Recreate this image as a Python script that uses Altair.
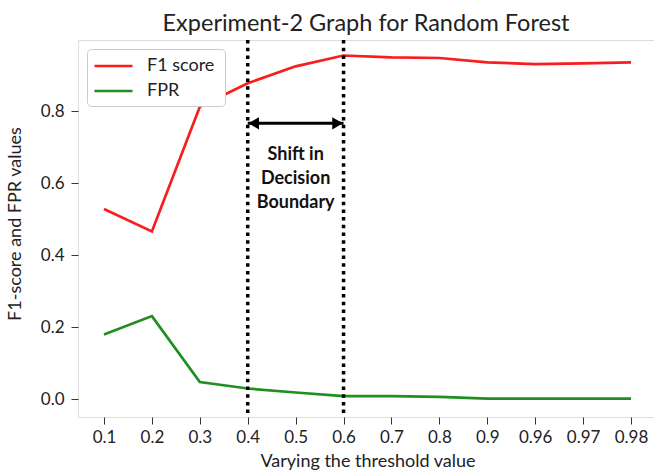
import altair as alt
import pandas as pd

thresholds = ["0.1", "0.2", "0.3", "0.4", "0.5", "0.6", "0.7", "0.8", "0.9", "0.96", "0.97", "0.98"]
f1_score = [0.528, 0.466, 0.812, 0.877, 0.924, 0.954, 0.949, 0.947, 0.935, 0.930, 0.932, 0.935]
fpr = [0.180, 0.231, 0.048, 0.030, 0.019, 0.009, 0.009, 0.007, 0.002, 0.002, 0.002, 0.002]
series_names = ["F1 score", "FPR"]
series_colors = ["#f81e1e", "#1f8f1f"]
boundary_thresholds = ["0.4", "0.6"]
arrow_level = 0.766
annotation_text = "Shift in\nDecision\nBoundary"
annotation_threshold = "0.5"
annotation_level = 0.678

FONT = "Lato"
TXT = "#222222"

rows = []
for t, a, b in zip(thresholds, f1_score, fpr):
    rows.append({"threshold": t, "value": a, "series": series_names[0]})
    rows.append({"threshold": t, "value": b, "series": series_names[1]})
df = pd.DataFrame(rows)

xscale = alt.Scale(type="point", domain=thresholds, padding=0, range=[26, 553])
yscale = alt.Scale(domain=[-0.049, 0.997], nice=False, zero=False)

x_axis = alt.Axis(title="Varying the threshold value", labelAngle=0, labelFontSize=17,
                  titleFontSize=18, labelColor=TXT, titleColor=TXT,
                  tickSize=7, tickColor="#333", domain=False, grid=False,
                  labelPadding=5, labelFont=FONT, titleFont=FONT,
                  titleFontWeight="normal", titleY=49, titleBaseline="alphabetic")
y_axis = alt.Axis(title="F1-score and FPR values", values=[0, 0.2, 0.4, 0.6, 0.8], format=".1f",
                  labelFontSize=17, titleFontSize=18, labelColor=TXT, titleColor=TXT,
                  tickSize=7, tickColor="#333", domain=False, grid=False,
                  labelPadding=7, labelFont=FONT, titleFont=FONT,
                  titleFontWeight="normal", titleX=-63, titleY=183.5,
                  titleBaseline="middle", titleAlign="center", titleAngle=270)

lines = alt.Chart(df).mark_line(strokeWidth=2.7).encode(
    x=alt.X("threshold:O", scale=xscale, axis=x_axis, sort=thresholds),
    y=alt.Y("value:Q", scale=yscale, axis=y_axis),
    color=alt.Color("series:N",
                    scale=alt.Scale(domain=series_names, range=series_colors),
                    legend=alt.Legend(orient="top-left", title="i", titleOrient="right",
                                      titleOpacity=0, titleFontSize=16, titlePadding=0,
                                      symbolType="M-1,0H3",
                                      symbolStrokeWidth=2.7, symbolSize=361,
                                      labelFontSize=18, labelFont=FONT, labelColor=TXT,
                                      fillColor="white", strokeColor="#cccccc",
                                      cornerRadius=4, padding=6, offset=9,
                                      rowPadding=5, labelOffset=32)),
)

bdf = pd.DataFrame({"threshold": boundary_thresholds})
vlines = alt.Chart(bdf).mark_rule(color="black", strokeWidth=3.5, strokeDash=[3.5, 4.2]).encode(
    x=alt.X("threshold:O", scale=xscale, sort=thresholds),
)

adf = pd.DataFrame({"start": [boundary_thresholds[0]], "end": [boundary_thresholds[1]], "level": [arrow_level]})
arrow = alt.Chart(adf).mark_rule(color="black", strokeWidth=3).encode(
    x=alt.X("start:O", scale=xscale, sort=thresholds),
    x2="end:O",
    y=alt.Y("level:Q", scale=yscale),
)
head_l = alt.Chart(adf).mark_point(shape="triangle-left", filled=True, color="black",
                                   size=150, opacity=1, xOffset=6).encode(
    x=alt.X("start:O", scale=xscale, sort=thresholds),
    y=alt.Y("level:Q", scale=yscale),
)
head_r = alt.Chart(adf).mark_point(shape="triangle-right", filled=True, color="black",
                                   size=150, opacity=1, xOffset=-6).encode(
    x=alt.X("end:O", scale=xscale, sort=thresholds),
    y=alt.Y("level:Q", scale=yscale),
)

tdf = pd.DataFrame({"threshold": [annotation_threshold], "level": [annotation_level], "label": [annotation_text]})
text = alt.Chart(tdf).mark_text(fontWeight="bold", fontSize=18, font=FONT, color="#111111",
                                lineBreak="\n", lineHeight=24, baseline="middle", align="center").encode(
    x=alt.X("threshold:O", scale=xscale, sort=thresholds),
    y=alt.Y("level:Q", scale=yscale),
    text="label:N",
)

chart = alt.layer(lines, vlines, arrow, head_l, head_r, text).properties(
    width=576, height=377,
    title=alt.TitleParams("Experiment-2 Graph for Random Forest", fontSize=23.5, font=FONT,
                          fontWeight="normal", color=TXT, offset=3),
    autosize=alt.AutoSizeParams(type="none"),
    padding={"left": 78, "top": 40, "right": 0, "bottom": 53},
).configure_view(stroke="#333333", strokeWidth=1.2).configure(background="white")

chart.save("out.html", embed_options={"renderer": "svg", "actions": False})
